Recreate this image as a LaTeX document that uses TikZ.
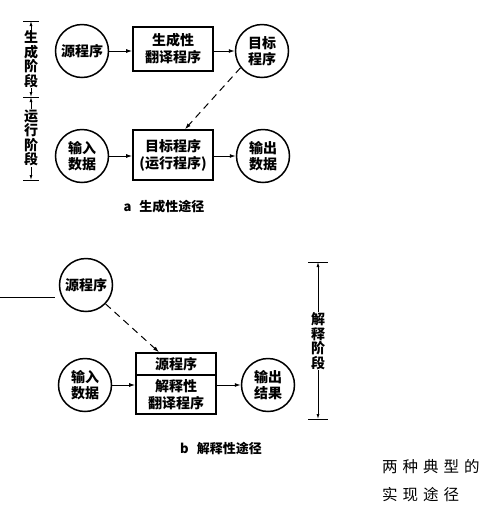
\documentclass[tikz,border=0pt]{standalone}
\usepackage{fontspec}
\setmainfont{Noto Sans CJK SC}
\usetikzlibrary{arrows.meta,calc}
\begin{document}
\begin{tikzpicture}[x=1pt,y=-1pt,
  circ/.style={circle,draw,line width=1.5pt,minimum size=53pt,inner sep=0pt,align=center,font=\bfseries\fontsize{14}{16}\selectfont},
  box/.style={draw,line width=1.6pt,minimum width=80pt,inner sep=0pt,align=center,font=\bfseries\fontsize{14}{17}\selectfont},
  arr/.style={line width=1pt,-{Latex[length=6pt,width=4pt]}},
  dsh/.style={line width=1pt,dash pattern=on 7pt off 5pt,-{Latex[length=6pt,width=4pt]}},
  dim/.style={line width=0.8pt,{Latex[length=5pt,width=3pt]}-{Latex[length=5pt,width=3pt]}},
  tickline/.style={line width=1pt},
  lbl/.style={font=\bfseries\fontsize{14}{14.5}\selectfont,align=center,fill=white,inner sep=1pt},
  captxt/.style={font=\bfseries\fontsize{13}{15}\selectfont}]
\useasboundingbox[fill=white] (0,0) rectangle (494,507);

% --- a: generative path
\node[circ] (src1) at (82,51) {源程序};
\node[box,minimum height=44pt] (gen) at (173,49) {生成性\\翻译程序};
\node[circ] (obj1) at (262,51) {目标\\程序};
\node[circ] (in1) at (82,156) {输入\\数据};
\node[box,minimum height=50pt] (run) at (173,155) {目标程序\\(运行程序)};
\node[circ] (out1) at (263,156) {输出\\数据};
\draw[arr] (src1.east) -- (gen.west |- src1.east);
\draw[arr] (gen.east |- obj1.west) -- (obj1.west);
\draw[arr] (in1.east) -- (run.west |- in1.east);
\draw[arr] (run.east |- out1.west) -- (out1.west);
\draw[dsh] (obj1.218) -- ($(run.north)+(12,0)$);

% left bracket
\coordinate (lt) at (31,21);
\coordinate (lm) at (31,97);
\coordinate (lb) at (31,180);
\draw[tickline] ([xshift=-8pt]lt) -- ([xshift=8pt]lt);
\draw[tickline] ([xshift=-8pt]lm) -- ([xshift=8pt]lm);
\draw[tickline] ([xshift=-8pt]lb) -- ([xshift=8pt]lb);
\draw[dim] (lt) -- (lm);
\draw[dim] (lm) -- (lb);
\node[lbl] (genph) at (31,59) {生\\成\\阶\\段};
\node[lbl] (runph) at (31,138) {运\\行\\阶\\段};

\node[captxt] (capa) at (164,207) {a\hspace{8pt}生成性途径};

% --- b: interpretive path
\coordinate (st0) at (0,297);
\coordinate (st1) at (55,297);
\draw[line width=1pt] (st0) -- (st1);
\node[circ] (src2) at (86,285) {源程序};
\node[box,minimum height=22pt] (srcpart) at (176,364) {源程序};
\node[box,minimum height=39pt] (interp) at (176,394.5) {解释性\\翻译程序};
\node[circ] (in2) at (85,385) {输入\\数据};
\node[circ] (out2) at (268,385) {输出\\结果};
\draw[arr] (in2.east) -- (interp.west |- in2.east);
\draw[arr] (interp.east |- out2.west) -- (out2.west);
\draw[dsh] (src2.316) -- ($(srcpart.north)+(-17,0)$);

% right bracket
\coordinate (rt) at (318,262);
\coordinate (rb) at (318,419);
\draw[tickline] ([xshift=-10pt]rt) -- ([xshift=10pt]rt);
\draw[tickline] ([xshift=-10pt]rb) -- ([xshift=10pt]rb);
\draw[dim] (rt) -- (rb);
\node[lbl] (intph) at (318,341) {解\\释\\阶\\段};

\node[captxt] (capb) at (221,448) {b\hspace{8pt}解释性途径};

% title
\node[font=\fontsize{15.5}{28}\selectfont,align=left,anchor=west,inner sep=0pt] (title) at (382,481)
  {两\hspace{5pt}种\hspace{5pt}典\hspace{5pt}型\hspace{5pt}的\\实\hspace{5pt}现\hspace{5pt}途\hspace{5pt}径};
\end{tikzpicture}
\end{document}
